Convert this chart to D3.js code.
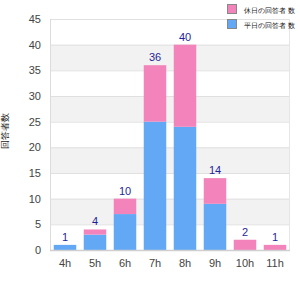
<!DOCTYPE html>
<html><head><meta charset="utf-8">
<script src="https://cdn.jsdelivr.net/npm/d3@7"></script>
<style>body{margin:0;background:#fff;}svg{display:block;font-family:Arial,"Liberation Sans",sans-serif;}</style>
</head><body>
<svg id="c" width="300" height="300"></svg>
<script>
const categories = ["4h","5h","6h","7h","8h","9h","10h","11h"];
const seriesNames = ["平日の回答者 数","休日の回答者 数"];
const blueValues = [1,3,7,25,24,9,0,0];
const pinkValues = [0,1,3,11,16,5,2,1];
const yTicks = [0,5,10,15,20,25,30,35,40,45];
const yTitle = "回答者数";
const colors = {blue:"#62a8f5", pink:"#f283bb"};

const svg = d3.select("#c");
const m = {l:50, r:10, t:19, b:50};
const W = 300, H = 300;
const x = d3.scaleBand().domain(categories).range([m.l, W - m.r]).paddingInner(0.25).paddingOuter(0.125);
const y = d3.scaleLinear().domain([0,45]).range([H - m.b, m.t]);

// alternating bands
const g = svg.append("g");
for (let i = 0; i < yTicks.length - 1; i++) {
  if (i % 2 === 1) {
    g.append("rect").attr("x", m.l).attr("width", W - m.r - m.l)
      .attr("y", y(yTicks[i+1])).attr("height", y(yTicks[i]) - y(yTicks[i+1]))
      .attr("fill", "#f2f2f2");
  }
}
g.selectAll("line.grid").data(yTicks).enter().append("line")
  .attr("x1", m.l).attr("x2", W - m.r)
  .attr("y1", d => y(d) + 0.5).attr("y2", d => y(d) + 0.5)
  .attr("stroke", "#e0e0e0");
g.append("line").attr("x1", m.l + 0.5).attr("x2", m.l + 0.5).attr("y1", m.t).attr("y2", H - m.b).attr("stroke", "#dcdcdc");
g.append("line").attr("x1", W - m.r - 0.5).attr("x2", W - m.r - 0.5).attr("y1", m.t).attr("y2", H - m.b).attr("stroke", "#e6e6e6");

const data = categories.map((c, i) => ({c, b: blueValues[i], p: pinkValues[i]}));
svg.selectAll("rect.b").data(data).enter().append("rect")
  .attr("x", d => x(d.c)).attr("width", x.bandwidth())
  .attr("y", d => y(d.b)).attr("height", d => y(0) - y(d.b))
  .attr("fill", colors.blue);
svg.selectAll("rect.p").data(data).enter().append("rect")
  .attr("x", d => x(d.c)).attr("width", x.bandwidth())
  .attr("y", d => y(d.b + d.p)).attr("height", d => y(d.b) - y(d.b + d.p))
  .attr("fill", colors.pink);
svg.selectAll("text.tot").data(data).enter().append("text")
  .attr("x", d => x(d.c) + x.bandwidth()/2).attr("y", d => y(d.b + d.p) - 4)
  .attr("text-anchor", "middle").attr("font-size", 11).attr("fill", "#1f1f99")
  .text(d => d.b + d.p);

// axis
svg.append("line").attr("x1", m.l).attr("x2", W - m.r).attr("y1", y(0)+0.5).attr("y2", y(0)+0.5).attr("stroke", "#cfcfcf").attr("stroke-width", 1.5);
const ya = d3.axisLeft(y).tickValues(yTicks).tickSize(0).tickPadding(9);
const yg = svg.append("g").attr("transform", `translate(${m.l},0)`).call(ya);
yg.select(".domain").remove();
yg.selectAll("text").attr("font-size", 11).attr("fill", "#444").attr("font-family", "Arial,'Liberation Sans',sans-serif");
const xa = d3.axisBottom(x).tickSize(0).tickPadding(9);
const xg = svg.append("g").attr("transform", `translate(0,${y(0)})`).call(xa);
xg.select(".domain").remove();
xg.selectAll("text").attr("font-size", 11).attr("fill", "#444").attr("font-family", "Arial,'Liberation Sans',sans-serif");

svg.append("text").attr("transform", `translate(8,${(m.t + H - m.b)/2 - 4}) rotate(-90)`)
  .attr("text-anchor", "middle").attr("font-size", 8.5).attr("fill", "#222").text(yTitle);

// legend
const legend = [{n: seriesNames[1], c: colors.pink}, {n: seriesNames[0], c: colors.blue}];
const lg = svg.selectAll("g.lg").data(legend).enter().append("g")
  .attr("transform", (d, i) => `translate(227,${4 + i*15})`);
lg.append("rect").attr("x", 0.5).attr("y", 0.5).attr("width", 9).attr("height", 9)
  .attr("fill", d => d.c).attr("stroke", "#888");
lg.append("text").attr("x", 17).attr("y", 8.5).attr("font-size", 7).attr("fill", "#111").text(d => d.n);
</script>
</body></html>
